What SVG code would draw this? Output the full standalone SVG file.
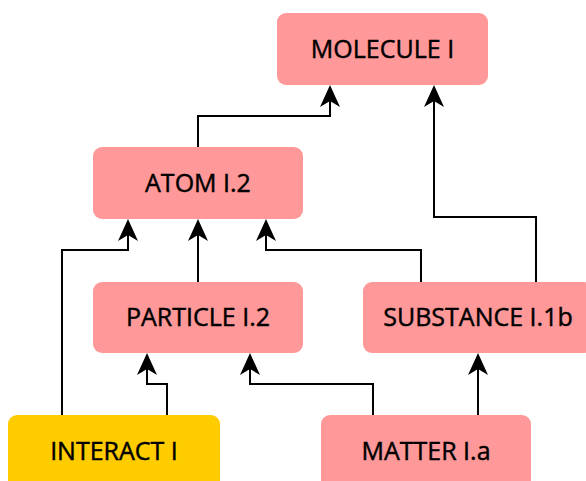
<svg xmlns="http://www.w3.org/2000/svg" width="586" height="481" viewBox="0 0 586 481">
<style>
.box{fill:#FF9999}
.yel{fill:#FFCC00}
.lbl{font-family:"Open Sans","DejaVu Sans",sans-serif;font-size:25px;fill:#000;stroke:#000;stroke-width:0.45;text-anchor:middle}
.edge{fill:none;stroke:#000;stroke-width:2;marker-end:url(#arr)}
</style>
<defs>
<marker id="arr" markerUnits="userSpaceOnUse" viewBox="-16 -11 28 22" refX="0" refY="0" markerWidth="28" markerHeight="22" orient="auto" overflow="visible">
<path d="M10,0 Q-1,-5 -12,-10 L-6,0 L-12,10 Q-1,5 10,0 Z" fill="#000"/>
</marker>
</defs>
<rect width="586" height="481" fill="#fff"/>
<g id="connectors">
<path class="edge" d="M198,147 V116 H330 V95"/>
<path class="edge" d="M536,282 V217 H434 V95"/>
<path class="edge" d="M62,415 V250 H128 V229"/>
<path class="edge" d="M198,282 V229"/>
<path class="edge" d="M421,282 V250 H266 V229"/>
<path class="edge" d="M167,415 V384 H147 V363"/>
<path class="edge" d="M373,415 V384 H250 V363"/>
<path class="edge" d="M478,415 V363"/>
</g>
<g id="molecule"><rect class="box" x="277" y="13" width="211" height="72" rx="9"/><text class="lbl" x="382.5" y="58">MOLECULE I</text></g>
<g id="atom"><rect class="box" x="93" y="147" width="210" height="72" rx="9"/><text class="lbl" x="198" y="192">ATOM I.2</text></g>
<g id="particle"><rect class="box" x="93" y="282" width="210" height="71" rx="9"/><text class="lbl" x="198" y="326">PARTICLE I.2</text></g>
<g id="substance"><rect class="box" x="363" y="282" width="230" height="71" rx="9"/><text class="lbl" x="478" y="326">SUBSTANCE I.1b</text></g>
<g id="interact"><rect class="yel" x="8" y="415" width="212" height="80" rx="9"/><text class="lbl" x="114" y="460">INTERACT I</text></g>
<g id="matter"><rect class="box" x="321" y="415" width="210" height="80" rx="9"/><text class="lbl" x="426" y="460">MATTER I.a</text></g>
</svg>
